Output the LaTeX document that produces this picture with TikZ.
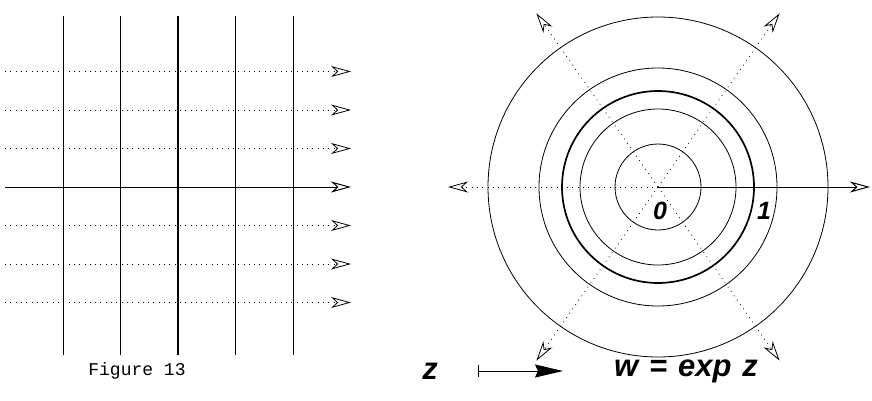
\documentclass[tikz,border=0pt]{standalone}
\usepackage{fontspec}
\usetikzlibrary{arrows.meta}
\newfontfamily\capmono{Liberation Mono}
\newfontfamily\labsans{Liberation Sans}
\tikzset{
  grid line/.style={black, line width=0.8pt},
  unit line/.style={black, line width=1.7pt},
  flow line/.style={black, line width=0.8pt, dash pattern=on 0.8pt off 4.5pt,
    -{Stealth[open, length=20pt, width=11pt, inset=6pt]}
  },
  axis line/.style={black, line width=1pt,
    -{Stealth[open, length=20pt, width=11pt, inset=6pt]}
  },
  ring/.style={circle, draw=black, line width=0.8pt, inner sep=0pt},
  mark label/.style={font=\fontsize{25}{27}\labsans\bfseries\itshape, inner sep=0pt},
  map label/.style={font=\fontsize{31}{33}\labsans\bfseries\itshape, inner sep=0pt}
}

\begin{document}
\begin{tikzpicture}[x=1pt, y=1pt]
\useasboundingbox (0,0) rectangle (872,400);

% 左图：z 平面上的网格
\begin{scope}[shift={(178,213)}]
  \coordinate (zO) at (0,0);
  % 水平虚线（虚部为常数）
  \coordinate (h1L) at (-173, 115.5); \coordinate (h1R) at (173, 115.5);
  \coordinate (h2L) at (-173,  77);   \coordinate (h2R) at (173,  77);
  \coordinate (h3L) at (-173,  38.5); \coordinate (h3R) at (173,  38.5);
  \coordinate (h5L) at (-173, -38.5); \coordinate (h5R) at (173, -38.5);
  \coordinate (h6L) at (-173, -77);   \coordinate (h6R) at (173, -77);
  \coordinate (h7L) at (-173,-115.5); \coordinate (h7R) at (173,-115.5);
  \coordinate (axL) at (-173, 0);     \coordinate (axR) at (173, 0);
  \draw[flow line] (h1L) -- (h1R);
  \draw[flow line] (h2L) -- (h2R);
  \draw[flow line] (h3L) -- (h3R);
  \draw[flow line] (h5L) -- (h5R);
  \draw[flow line] (h6L) -- (h6R);
  \draw[flow line] (h7L) -- (h7R);
  \draw[axis line] (axL) -- (axR);
  % 竖直实线（实部为常数）
  \coordinate (v1T) at (-115, 171); \coordinate (v1B) at (-115,-168);
  \coordinate (v2T) at (-57.5,171); \coordinate (v2B) at (-57.5,-168);
  \coordinate (v3T) at (0,   171);  \coordinate (v3B) at (0,  -168);
  \coordinate (v4T) at (57.5,171);  \coordinate (v4B) at (57.5,-168);
  \coordinate (v5T) at (115, 171);  \coordinate (v5B) at (115,-168);
  \draw[grid line] (v1T) -- (v1B);
  \draw[grid line] (v2T) -- (v2B);
  \draw[unit line] (v3T) -- (v3B);
  \draw[grid line] (v4T) -- (v4B);
  \draw[grid line] (v5T) -- (v5B);
\end{scope}

% 右图：w 平面上的同心圆与射线
\begin{scope}[shift={(658,213)}]
  \coordinate (wO) at (0,0);
  \node[ring, minimum size=86pt]  (c1) at (wO) {};
  \node[ring, minimum size=156pt] (c2) at (wO) {};
  \node[ring, minimum size=192pt, line width=1.7pt] (c3) at (wO) {};
  \node[ring, minimum size=238pt] (c4) at (wO) {};
  \node[ring, minimum size=340pt] (c5) at (wO) {};
  % 射线
  \coordinate (r0)   at (0:212);
  \coordinate (r55)  at (55:212);
  \coordinate (r125) at (125:212);
  \coordinate (r180) at (180:210);
  \coordinate (r235) at (235:212);
  \coordinate (r305) at (305:212);
  \draw[flow line] (wO) -- (r55);
  \draw[flow line] (wO) -- (r125);
  \draw[flow line] (wO) -- (r180);
  \draw[flow line] (wO) -- (r235);
  \draw[flow line] (wO) -- (r305);
  \draw[axis line] (wO) -- (r0);
  \node[mark label] (l0) at (2,-24) {0};
  \node[mark label] (l1) at (106,-24) {1};
\end{scope}

% 标题
\node[font=\fontsize{18}{20}\capmono, inner sep=0pt] (fig) at (137,29) {Figure 13};
\node[map label] (zz) at (430,29) {z};
\node[map label] (ww) at (686,29) {w\hspace{0.35em}=\hspace{0.35em}exp\hspace{0.35em}z};
\coordinate (mapA) at (478,29);
\coordinate (mapB) at (563,29);
\draw[black, line width=1pt, {Bar[width=12pt]}-{Stealth[length=28pt, width=13pt, inset=3pt]}] (mapA) -- (mapB);

\end{tikzpicture}
\end{document}
